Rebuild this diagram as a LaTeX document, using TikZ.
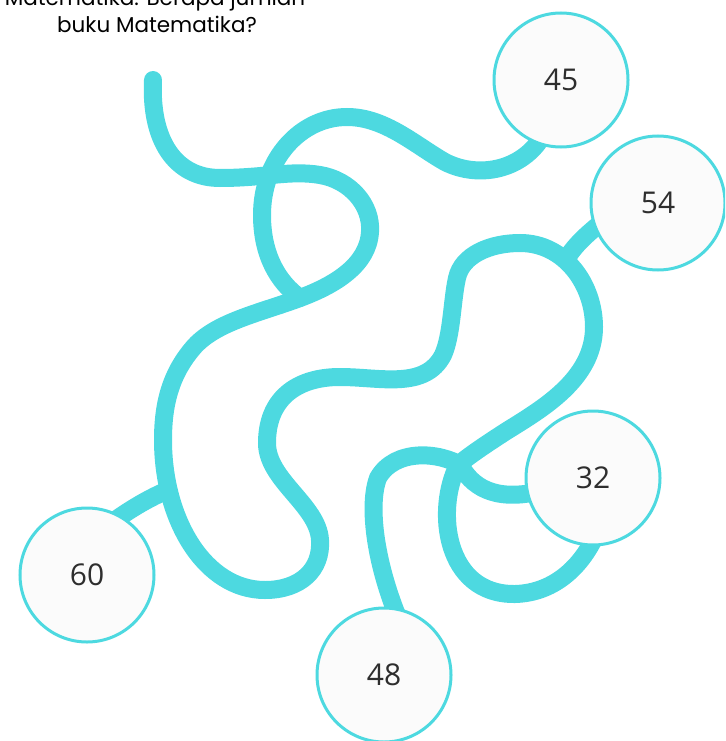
\documentclass[tikz,border=0pt]{standalone}
\usepackage{fontspec}
\setmainfont{Open Sans}
\newfontfamily\questionfont{Poppins}
\definecolor{mazecyan}{HTML}{4DD9E0}
\definecolor{numgray}{HTML}{2E2E2E}
\tikzset{
  maze path/.style={
    draw=mazecyan,
    line width=18pt,      % thick maze line
    line cap=round,
  },
  answer circle/.style={
    circle, draw=mazecyan, line width=3pt, fill=gray!3,
    minimum size=134pt, inner sep=0pt,
    text=numgray, font=\fontsize{30}{30}\selectfont
  }
}

\begin{document}
\begin{tikzpicture}[x=1pt, y=-1pt]
    \useasboundingbox (0,0) rectangle (725,741);
    \clip (0,0) rectangle (725,741);

    % question (first line is cut off at the top)
    \node[anchor=base, font=\questionfont\fontsize{21.5}{21.5}\selectfont] (q1) at (155,6) {Matematika. Berapa jumlah};
    \node[anchor=base, font=\questionfont\fontsize{21.5}{21.5}\selectfont] (q2) at (157,33) {buku Matematika?};

    % centres of the answer circles
    \coordinate (c45) at (561,80);
    \coordinate (c54) at (658,203);
    \coordinate (c32) at (593,478);
    \coordinate (c48) at (384,675);
    \coordinate (c60) at (87,575);

    % long line from the start
    \draw[maze path] (153,80) .. controls (150,140) and (175,178) .. (220,178)
        .. controls (265,178) and (290,170) .. (320,175)
        .. controls (350,180) and (372,205) .. (370,232)
        .. controls (368,265) and (335,285) .. (300,298)
        .. controls (260,313) and (215,322) .. (193,348)
        .. controls (170,375) and (163,405) .. (163,440)
        .. controls (163,520) and (205,590) .. (265,590)
        .. controls (300,590) and (322,570) .. (320,540)
        .. controls (318,505) and (267,480) .. (267,443)
        .. controls (267,400) and (295,377) .. (340,377)
        .. controls (380,377) and (425,390) .. (443,355)
        .. controls (452,335) and (452,300) .. (457,278)
        .. controls (462,255) and (490,243) .. (520,243)
        .. controls (565,243) and (594,285) .. (594,327)
        .. controls (594,380) and (540,410) .. (505,432)
        .. controls (485,445) and (470,455) .. (458,465);

    % line from 45
    \draw[maze path] (548,125) .. controls (530,170) and (480,180) .. (445,162)
        .. controls (415,145) and (385,117) .. (347,117)
        .. controls (300,117) and (262,160) .. (262,215)
        .. controls (262,255) and (278,282) .. (300,298);

    % lines near the bottom
    \draw[maze path] (462,466) .. controls (440,452) and (395,448) .. (378,478)
        .. controls (368,505) and (375,560) .. (397,615);
    \draw[maze path] (458,465) .. controls (435,510) and (445,595) .. (515,594)
        .. controls (555,593) and (585,565) .. (600,525);
    \draw[maze path] (462,468) .. controls (475,490) and (500,502) .. (545,490);

    % short stubs
    \draw[maze path] (620,208) .. controls (598,225) and (578,240) .. (567,258);
    \draw[maze path] (95,535) .. controls (125,512) and (145,500) .. (168,490);

    % answer circles
    \node[answer circle] (n45) at (c45) {45};
    \node[answer circle] (n54) at (c54) {54};
    \node[answer circle] (n32) at (c32) {32};
    \node[answer circle] (n48) at (c48) {48};
    \node[answer circle] (n60) at (c60) {60};
\end{tikzpicture}
\end{document}
